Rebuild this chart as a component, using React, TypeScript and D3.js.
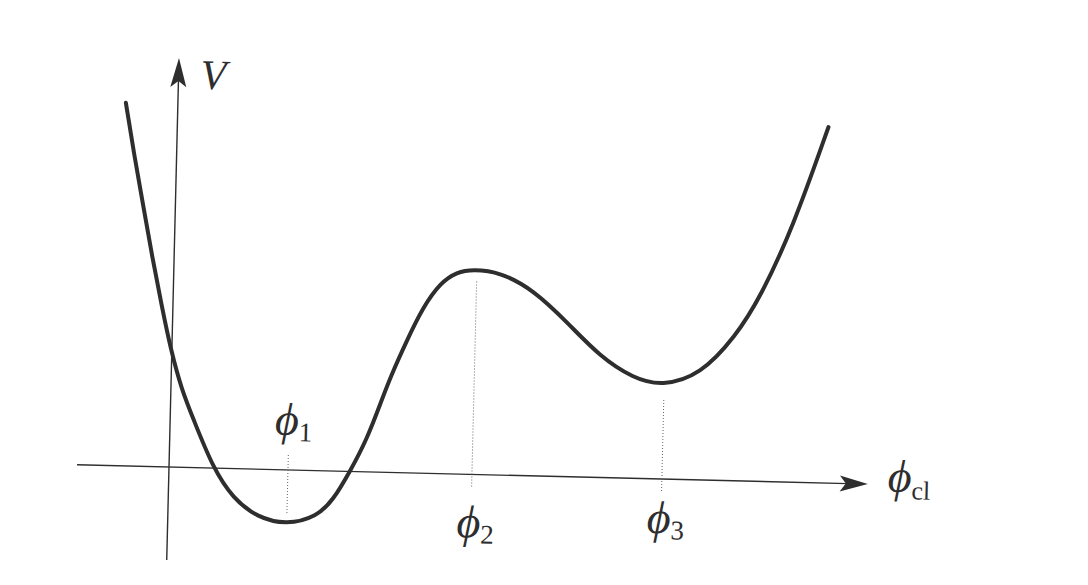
import * as d3 from 'd3'

const width = 1088
const height = 585

// potential V(phi_cl) (arbitrary units)
const phi = [
  -0.52, -0.42, -0.32, -0.22, -0.11, -0.01, 0.11, 0.23, 0.44, 0.65, 0.89, 1.19, 1.49, 1.65, 1.81, 1.97,
  2.11, 2.19, 2.35, 2.5, 2.67, 2.83, 2.99, 3.26, 3.6, 3.95, 4.28, 4.62, 4.91, 5.29, 5.63, 5.87, 6.18, 6.51
]
const V = [
  3.63, 3.09, 2.6, 2.1, 1.6, 1.17, 0.77, 0.49, 0.0, -0.3, -0.48, -0.55, -0.46, -0.29, 0.0, 0.32,
  0.72, 0.95, 1.33, 1.66, 1.91, 2.02, 2.05, 2.03, 1.86, 1.54, 1.21, 1.0, 0.93, 1.05, 1.44, 1.84, 2.55, 3.56
]

// axis extents
const xAxisExtent = [-0.92, 6.99]
const yAxisExtent = [-0.93, 4.09]

// stationary points and their dotted guides
const markPhi = [1.19, 3.03, 4.93]
const markTop = [0.15, 1.93, 0.79]
const markBottom = [-0.45, -0.13, -0.13]
const markSub = ['1', '2', '3']

// layout
const origin = { x: 169, y: 467 }
const tilt = 1.4 // the scan is slightly rotated
const unit = 100
const labelBaseline = [-35, 63, 54]
const ink = '#2e2e2e'
const serif = '"Liberation Serif", "DejaVu Serif", serif'

function App() {
  const xScale = d3.scaleLinear().domain([0, 1]).range([0, unit])
  const yScale = d3.scaleLinear().domain([0, 1]).range([0, -unit])

  const points: [number, number][] = phi.map((p, i) => [p, V[i]])
  const line = d3
    .line<[number, number]>()
    .x((d) => xScale(d[0]))
    .y((d) => yScale(d[1]))
    .curve(d3.curveBasis)

  const xEnd = xScale(xAxisExtent[1])
  const yEnd = yScale(yAxisExtent[1])

  return (
    <svg
      width={width}
      height={height}
      style={{ position: 'absolute', left: 0, top: 0, background: '#fff' }}
    >
      <g transform={`translate(${origin.x},${origin.y}) rotate(${tilt})`}>
        {/* axes */}
        <line
          x1={xScale(xAxisExtent[0])}
          x2={xEnd - 20}
          y1={yScale(0)}
          y2={yScale(0)}
          stroke={ink}
          strokeWidth={1.4}
        />
        <path
          d={`M${xEnd},0 L${xEnd - 28},-8 L${xEnd - 22},0 L${xEnd - 28},8 Z`}
          fill={ink}
        />
        <line
          x1={xScale(0)}
          x2={xScale(0)}
          y1={yScale(yAxisExtent[0])}
          y2={yEnd + 20}
          stroke={ink}
          strokeWidth={1.4}
        />
        <path
          d={`M0,${yEnd} L-8,${yEnd + 29} L0,${yEnd + 23} L8,${yEnd + 29} Z`}
          fill={ink}
        />

        {/* dotted guides */}
        {markPhi.map((p, i) => (
          <line
            key={p}
            x1={xScale(p)}
            x2={xScale(p)}
            y1={yScale(markTop[i])}
            y2={yScale(markBottom[i])}
            stroke="#666"
            strokeWidth={1}
            strokeDasharray="1 2"
          />
        ))}

        {/* curve */}
        <path d={line(points) ?? ''} fill="none" stroke={ink} strokeWidth={4} strokeLinecap="round" />

        {/* labels */}
        <text
          x={22}
          y={yEnd + 30}
          fontFamily={serif}
          fontStyle="italic"
          fontSize={42}
          fill={ink}
        >V</text>
        {markPhi.map((p, i) => (
          <text
            key={p}
            x={xScale(p) - 14}
            y={labelBaseline[i]}
            fontFamily={serif}
            fontSize={46}
            fill={ink}
          >
            <tspan fontStyle="italic">ϕ</tspan>
            <tspan fontSize={27} dy={6}>{markSub[i]}</tspan>
          </text>
        ))}
        <text
          x={xEnd + 20}
          y={7}
          fontFamily={serif}
          fontSize={46}
          fill={ink}
        >
          <tspan fontStyle="italic">ϕ</tspan>
          <tspan fontSize={26} dy={7}>cl</tspan>
        </text>
      </g>
    </svg>
  )
}

export default App
